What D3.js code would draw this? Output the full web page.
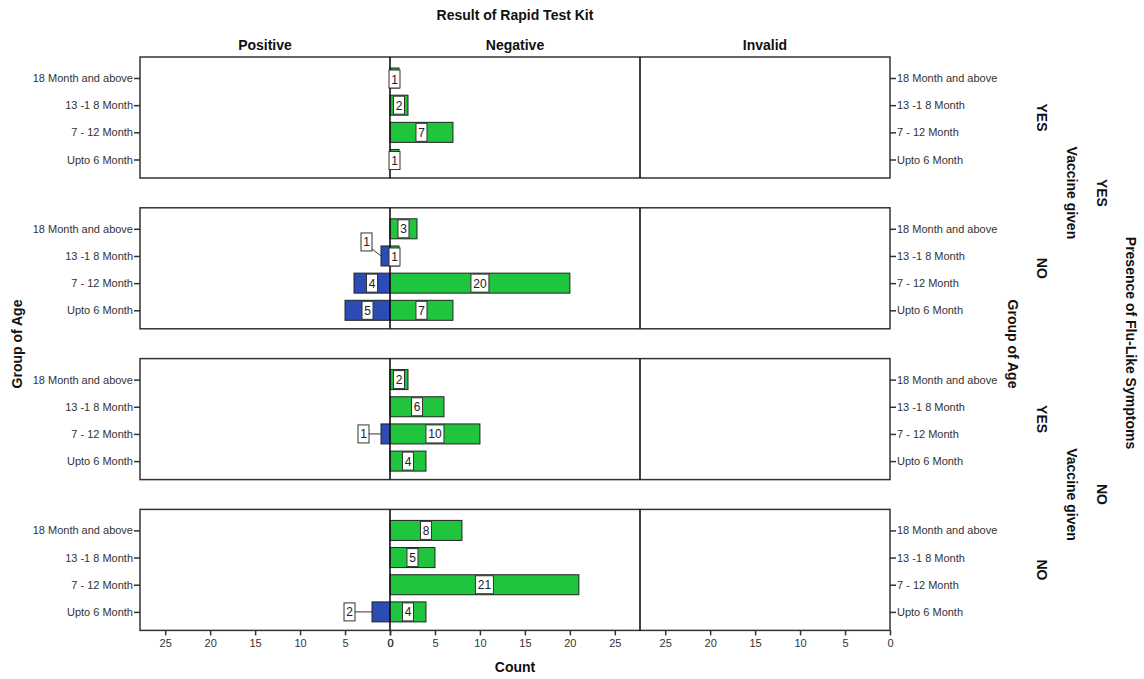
<!DOCTYPE html>
<html>
<head>
<meta charset="utf-8">
<script src="https://cdn.jsdelivr.net/npm/d3@7"></script>
<style>
  html, body { margin: 0; padding: 0; background: #fff; }
  svg { display: block; font-family: "Liberation Sans", Arial, sans-serif; }
</style>
</head>
<body>
<svg id="chart" width="1144" height="679"></svg>
<script>
// ---------------- data ----------------
const ages = ["18 Month and above", "13 -1 8 Month", "7 - 12 Month", "Upto 6 Month"];
const results = ["Positive", "Negative", "Invalid"];
const fluLevels = ["YES", "NO"];
const vaccineLevels = ["YES", "NO"];
// rows: [flu YES/vacc YES, flu YES/vacc NO, flu NO/vacc YES, flu NO/vacc NO]
const rowFlu = ["YES", "YES", "NO", "NO"];
const rowVaccine = ["YES", "NO", "YES", "NO"];
const positiveCounts = [
  [0, 0, 0, 0],
  [0, 1, 4, 5],
  [0, 0, 1, 0],
  [0, 0, 0, 2]
];
const negativeCounts = [
  [1, 2, 7, 1],
  [3, 1, 20, 7],
  [2, 6, 10, 4],
  [8, 5, 21, 4]
];
const invalidCounts = [
  [0, 0, 0, 0],
  [0, 0, 0, 0],
  [0, 0, 0, 0],
  [0, 0, 0, 0]
];
const tickValues = [0, 5, 10, 15, 20, 25];
const countMax = 27.8;

// ---------------- layout ----------------
const svg = d3.select("#chart");
const left = 140, panelW = 250;
const rowTop0 = 57, rowH = 121, rowStep = 150.8;
const green = "#1fc53d", blue = "#2b4bb5", stroke = "#333";
const barH = 20;

const rowTop = i => rowTop0 + i * rowStep;

const xScales = {
  Positive: d3.scaleLinear().domain([0, countMax]).range([left + panelW, left]),
  Negative: d3.scaleLinear().domain([0, countMax]).range([left + panelW, left + 2 * panelW]),
  Invalid: d3.scaleLinear().domain([0, countMax]).range([left + 3 * panelW, left + 2 * panelW])
};
const countsBy = { Positive: positiveCounts, Negative: negativeCounts, Invalid: invalidCounts };
const colorBy = { Positive: blue, Negative: green, Invalid: "#999" };

// titles
svg.append("text").attr("x", 515).attr("y", 20).attr("text-anchor", "middle")
  .attr("font-weight", "bold").attr("font-size", 14).attr("fill", "#111").text("Result of Rapid Test Kit");
results.forEach((r, k) => {
  svg.append("text").attr("x", left + panelW * k + panelW / 2).attr("y", 50).attr("text-anchor", "middle")
    .attr("font-weight", "bold").attr("font-size", 14).attr("fill", "#111").text(r);
});

const rowsCount = rowFlu.length;
for (let i = 0; i < rowsCount; i++) {
  const top = rowTop(i), bottom = top + rowH;
  const y = d3.scalePoint().domain(ages).range([top + 21, bottom - 18.5]);
  const g = svg.append("g");

  // bars
  results.forEach(r => {
    const xs = xScales[r];
    const data = ages.map((a, j) => ({ age: a, v: countsBy[r][i][j] })).filter(d => d.v > 0);
    g.selectAll(null).data(data).enter().append("rect")
      .attr("x", d => Math.min(xs(0), xs(d.v)))
      .attr("width", d => Math.abs(xs(d.v) - xs(0)))
      .attr("y", d => y(d.age) - barH / 2)
      .attr("height", barH)
      .attr("fill", colorBy[r]).attr("stroke", "#222").attr("stroke-width", 1);
  });

  // frame
  g.append("rect").attr("x", left).attr("y", top).attr("width", panelW * 3).attr("height", rowH)
    .attr("fill", "none").attr("stroke", stroke).attr("stroke-width", 1.5);
  [left + panelW, left + 2 * panelW].forEach(xv => {
    g.append("line").attr("x1", xv).attr("x2", xv).attr("y1", top).attr("y2", bottom)
      .attr("stroke", "#111").attr("stroke-width", 1.6);
  });

  // value labels
  results.forEach(r => {
    const xs = xScales[r];
    ages.forEach((a, j) => {
      const v = countsBy[r][i][j];
      if (v <= 0) return;
      const txt = String(v);
      const bw = txt.length > 1 ? 18 : 11, bh = 18;
      const barEnd = xs(v), mid = (xs(0) + xs(v)) / 2, yc = y(a);
      let cx = mid, cy = yc, callout = false;
      if (r === "Positive" && v <= 2) {
        callout = true;
        const gap = v === 1 ? 12 : 17;
        cx = barEnd - gap - bw / 2;
        if (j === 1) { cx = barEnd - 9 - bw / 2; cy = yc - 14; }
      }
      if (v === 1 && r !== "Positive") cy = yc + 1;
      if (callout) {
        g.append("line").attr("x1", cx + bw / 2).attr("y1", Math.min(cy + bh / 2 - 2, yc))
          .attr("x2", barEnd).attr("y2", yc).attr("stroke", "#333").attr("stroke-width", 1);
      }
      g.append("rect").attr("x", cx - bw / 2).attr("y", cy - bh / 2).attr("width", bw).attr("height", bh)
        .attr("fill", "#fff").attr("stroke", "#333").attr("stroke-width", 1);
      g.append("text").attr("x", cx).attr("y", cy + 4.5).attr("text-anchor", "middle")
        .attr("font-size", 12).attr("fill", "#222").text(txt);
    });
  });

  // left and right category axes
  const la = g.append("g").attr("transform", `translate(${left},0)`)
    .call(d3.axisLeft(y).tickSize(6).tickPadding(1));
  la.select(".domain").remove();
  const ra = g.append("g").attr("transform", `translate(${left + 3 * panelW},0)`)
    .call(d3.axisRight(y).tickSize(6).tickPadding(1));
  ra.select(".domain").remove();
  [la, ra].forEach(a => {
    a.selectAll("text").attr("font-size", 11).attr("fill", "#333")
      .attr("font-family", "'Liberation Sans', Arial, sans-serif");
    a.selectAll("line").attr("stroke", "#333").attr("stroke-width", 1.5);
  });

  // vaccine level labels
  svg.append("text").attr("transform", `translate(1037,${(top + bottom) / 2}) rotate(90)`)
    .attr("text-anchor", "middle").attr("font-weight", "bold").attr("font-size", 14).attr("fill", "#111")
    .text(rowVaccine[i]);
}

// bottom count axes
const lastBottom = rowTop(rowsCount - 1) + rowH;
results.forEach(r => {
  const ax = svg.append("g").attr("transform", `translate(0,${lastBottom})`)
    .call(d3.axisBottom(xScales[r]).tickValues(tickValues).tickSize(5).tickPadding(4));
  ax.select(".domain").remove();
  ax.selectAll("text").attr("font-size", 11).attr("fill", "#333")
    .attr("font-family", "'Liberation Sans', Arial, sans-serif");
  ax.selectAll("line").attr("stroke", "#333").attr("stroke-width", 1.5);
});
svg.append("text").attr("x", 515).attr("y", 672).attr("text-anchor", "middle")
  .attr("font-weight", "bold").attr("font-size", 14).attr("fill", "#111").text("Count");

// axis titles
svg.append("text").attr("transform", "translate(22,344) rotate(-90)").attr("text-anchor", "middle")
  .attr("font-weight", "bold").attr("font-size", 14).attr("fill", "#111").text("Group of Age");
svg.append("text").attr("transform", "translate(1008,344) rotate(90)").attr("text-anchor", "middle")
  .attr("font-weight", "bold").attr("font-size", 14).attr("fill", "#111").text("Group of Age");

// vaccine given & flu labels (span two rows)
fluLevels.forEach((f, k) => {
  const yc = (rowTop(2 * k) + rowTop(2 * k + 1) + rowH) / 2;
  svg.append("text").attr("transform", `translate(1067,${yc}) rotate(90)`).attr("text-anchor", "middle")
    .attr("font-weight", "bold").attr("font-size", 14).attr("fill", "#111").text("Vaccine given");
  svg.append("text").attr("transform", `translate(1097,${yc}) rotate(90)`).attr("text-anchor", "middle")
    .attr("font-weight", "bold").attr("font-size", 14).attr("fill", "#111").text(f);
});
svg.append("text").attr("transform", "translate(1126,343) rotate(90)").attr("text-anchor", "middle")
  .attr("font-weight", "bold").attr("font-size", 14).attr("fill", "#111").text("Presence of Flu-Like Symptoms");
</script>
</body>
</html>
